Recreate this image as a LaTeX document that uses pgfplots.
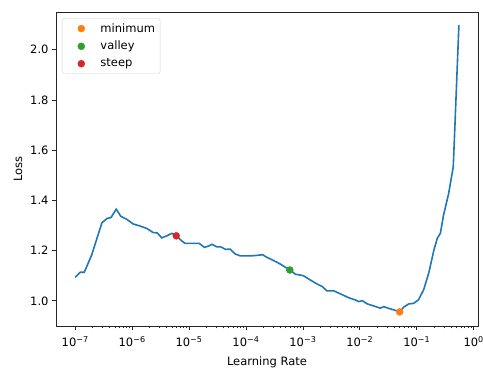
\documentclass[border=0pt]{standalone}
\usepackage{fontspec}
\setmainfont{DejaVu Sans}
\usepackage{pgfplots}
\pgfplotsset{compat=1.18}
\definecolor{mplblue}{HTML}{1F77B4}
\definecolor{mplorange}{HTML}{FF7F0E}
\definecolor{mplgreen}{HTML}{2CA02C}
\definecolor{mplred}{HTML}{D62728}
\begin{document}
\begin{tikzpicture}
\useasboundingbox (-56bp,-42bp) rectangle (427bp,326bp);
\begin{axis}[
  at={(0,0)}, anchor=south west,
  scale only axis,
  width=422bp, height=314bp,
  xmode=log,
  xmin=4.6e-8, xmax=1.19,
  ymin=0.90, ymax=2.15,
  font=\fontsize{11.5bp}{13.8bp}\selectfont,
  axis line style={line width=0.8bp, black!85},
  every tick/.style={black!85, line width=0.8bp},
  tick align=outside,
  tick pos=left,
  major tick length=4bp,
  minor tick length=2.4bp,
  xtick={1e-7,1e-6,1e-5,1e-4,1e-3,1e-2,1e-1,1},
  xticklabels={10\textsuperscript{−7},10\textsuperscript{−6},10\textsuperscript{−5},10\textsuperscript{−4},10\textsuperscript{−3},10\textsuperscript{−2},10\textsuperscript{−1},10\textsuperscript{0}},
  xticklabel style={yshift=-3bp},
  ytick={1.0,1.2,1.4,1.6,1.8,2.0},
  yticklabels={1.0,1.2,1.4,1.6,1.8,2.0},
  /pgf/number format/assume math mode=true,
  xlabel={Learning Rate},
  ylabel={Loss},
  xlabel style={yshift=-3bp},
  ylabel style={yshift=1bp},
  legend style={at={(0.014,0.98)}, anchor=north west, draw=black!18, rounded corners=2bp,
    fill=white, font=\fontsize{11.5bp}{13.8bp}\selectfont, row sep=3.5bp, inner sep=3bp},
  legend cell align=left,
  legend image code/.code={\path (0bp,0bp) (33bp,0bp); \draw[#1] plot coordinates {(16bp,0bp)};},
]
\addplot[mplblue, line width=1.6bp, forget plot] coordinates {
(1e-7,1.094) (1.23e-7,1.114) (1.445e-7,1.114) (1.95e-7,1.183) (2.95e-7,1.311)
(3.63e-7,1.328) (4.27e-7,1.332) (5.25e-7,1.365) (6.31e-7,1.337) (8.13e-7,1.324)
(1.047e-6,1.306) (1.38e-6,1.298) (1.82e-6,1.288) (2.34e-6,1.272) (2.75e-6,1.271)
(3.31e-6,1.251) (4.07e-6,1.259) (5.01e-6,1.269) (5.96e-6,1.259) (7.41e-6,1.239)
(8.51e-6,1.229) (1.20e-5,1.229) (1.51e-5,1.229) (1.86e-5,1.213) (2.19e-5,1.218)
(2.51e-5,1.225) (3.09e-5,1.215) (3.63e-5,1.215) (4.37e-5,1.205) (5.25e-5,1.206)
(6.46e-5,1.187) (7.94e-5,1.179) (1.20e-4,1.179) (1.55e-4,1.181) (1.95e-4,1.184)
(2.34e-4,1.173) (3.09e-4,1.160) (3.98e-4,1.147) (5.89e-4,1.123) (7.41e-4,1.106)
(8.91e-4,1.103) (1.023e-3,1.100) (1.35e-3,1.083) (1.78e-3,1.067) (2.19e-3,1.057)
(2.63e-3,1.040) (3.47e-3,1.040) (4.57e-3,1.028) (6.03e-3,1.015) (7.24e-3,1.008)
(8.32e-3,1.004) (9.55e-3,0.997) (1.096e-2,1.001) (1.35e-2,0.988) (1.74e-2,0.980)
(2.29e-2,0.971) (2.63e-2,0.977) (3.24e-2,0.970) (3.98e-2,0.964) (5.01e-2,0.956)
(5.89e-2,0.975) (7.24e-2,0.988) (8.81e-2,0.990) (0.107,1.004) (0.132,1.044)
(0.162,1.110) (0.200,1.202) (0.229,1.249) (0.260,1.269) (0.295,1.341)
(0.363,1.427) (0.437,1.533) (0.457,1.639) (0.550,2.099)
};
\addplot[only marks, mark=*, mark size=3.5bp, mplorange, mark options={draw=mplorange, fill=mplorange}] coordinates {(5.01e-2,0.956)};
\addlegendentry{minimum}
\addplot[only marks, mark=*, mark size=3.5bp, mplgreen, mark options={draw=mplgreen, fill=mplgreen}] coordinates {(5.89e-4,1.123)};
\addlegendentry{valley}
\addplot[only marks, mark=*, mark size=3.5bp, mplred, mark options={draw=mplred, fill=mplred}] coordinates {(5.96e-6,1.259)};
\addlegendentry{steep}
\end{axis}
\end{tikzpicture}
\end{document}
